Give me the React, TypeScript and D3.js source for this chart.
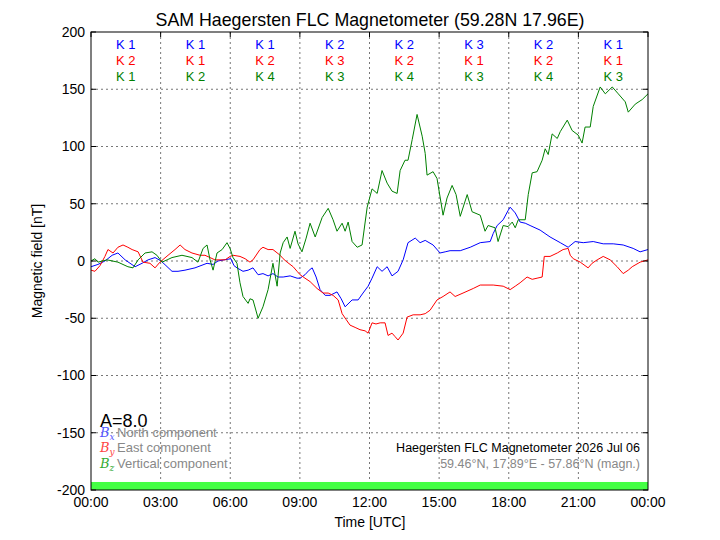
import React from "react";
import * as d3 from "d3";

// K-index per 3 hour window, for each component
const kNorth = [1, 1, 1, 2, 2, 3, 2, 1];
const kEast = [2, 1, 2, 3, 2, 1, 2, 1];
const kVert = [1, 2, 4, 3, 4, 3, 4, 3];

const xTicks = [0, 3, 6, 9, 12, 15, 18, 21, 24];
const xTickLabels = ["00:00", "03:00", "06:00", "09:00", "12:00", "15:00", "18:00", "21:00", "00:00"];
const yTicks = [-200, -150, -100, -50, 0, 50, 100, 150, 200];

// [hour UTC, nT]
const bxData: [number, number][] = [
  [0, -5], [0.3, -3], [0.6, 0], [0.91, 5], [1.16, 7], [1.47, 1], [1.9, -5], [2.2, -2], [2.46, 1], [2.76, 3],
  [3.02, 0], [3.23, -4], [3.49, -9], [3.75, -9], [4.05, -8], [4.48, -6], [5.0, -2], [5.26, -3], [5.47, 0], [5.73, 1],
  [6.03, 2], [6.16, -4], [6.29, -6], [6.55, -9], [6.77, -8], [6.98, -6], [7.2, -12], [7.41, -11], [7.63, -13], [7.84, -11],
  [8.06, -14], [8.28, -14], [8.58, -13], [8.88, -15], [9.01, -15], [9.22, -12], [9.4, -8], [9.53, -6], [9.7, -14], [9.87, -25],
  [10.09, -30], [10.3, -30], [10.6, -27], [10.78, -33], [10.95, -40], [11.25, -34], [11.51, -34], [11.72, -28], [11.94, -22], [12.11, -15],
  [12.33, -5], [12.54, -9], [12.76, -5], [12.97, -13], [13.23, -9], [13.45, 1], [13.66, 16], [13.97, 20], [14.18, 16], [14.4, 18],
  [14.74, 14], [15.04, 7], [15.26, 8], [15.47, 9], [15.91, 9], [16.34, 12], [16.77, 16], [17.2, 17], [17.33, 24], [17.5, 31],
  [17.76, 36], [17.97, 44], [18.06, 47], [18.28, 42], [18.49, 34], [18.71, 33], [18.92, 31], [19.35, 27], [19.78, 21], [20.22, 16],
  [20.56, 12], [20.86, 17], [21.21, 16], [21.64, 17], [22.07, 15], [22.5, 15], [22.93, 14], [23.36, 11], [23.66, 8], [24, 10],
];

const byData: [number, number][] = [
  [0, -8], [0.17, -9], [0.39, -4], [0.6, 4], [0.73, 10], [0.95, 7], [1.16, 12], [1.38, 14], [1.59, 12], [1.77, 10],
  [2.03, 8], [2.24, -1], [2.54, -2], [2.76, -6], [2.97, -1], [3.32, 5], [3.62, 10], [3.84, 14], [4.05, 10], [4.35, 7],
  [4.7, 5], [4.91, 5], [5.13, 3], [5.34, 1], [5.78, 1], [5.99, 4], [6.12, 5], [6.42, 4], [6.64, 2], [6.85, -1],
  [6.98, 1], [7.28, 10], [7.41, 12], [7.63, 10], [7.84, 10], [8.15, 5], [8.28, 2], [8.45, -1], [8.71, -5], [8.88, -9],
  [9.01, -12], [9.22, -15], [9.44, -18], [9.74, -24], [10.0, -28], [10.22, -28], [10.43, -30], [10.65, -34], [10.82, -46], [10.99, -51],
  [11.16, -56], [11.38, -58], [11.59, -60], [11.81, -61], [11.94, -63], [12.11, -54], [12.28, -55], [12.46, -54], [12.67, -54], [12.8, -65],
  [12.97, -63], [13.1, -66], [13.23, -69], [13.45, -63], [13.62, -49], [13.88, -47], [14.18, -47], [14.4, -46], [14.61, -43], [14.91, -34],
  [15.17, -31], [15.47, -27], [15.69, -31], [16.03, -28], [16.47, -24], [16.77, -21], [17.33, -21], [17.76, -22], [18.06, -25], [18.28, -22],
  [18.49, -19], [18.79, -14], [19.01, -16], [19.22, -15], [19.44, -14], [19.53, 4], [19.78, 4], [20.09, 7], [20.34, 10], [20.56, 11],
  [20.65, 5], [20.78, 2], [21.08, -1], [21.42, -6], [21.59, -2], [21.81, 1], [22.07, 4], [22.37, 1], [22.67, -5], [22.93, -11],
  [23.15, -8], [23.32, -5], [23.66, -1], [24, 1],
];

const bzData: [number, number][] = [
  [0, 0], [0.17, 2], [0.3, -1], [0.69, 1], [1.16, -1], [1.59, -5], [1.81, -6], [2.03, 1], [2.33, 7], [2.63, 8],
  [2.84, 5], [3.06, -1], [3.28, 1], [3.49, 3], [3.92, 5], [4.35, 3], [4.61, -1], [4.83, 11], [5.0, 14], [5.13, 1],
  [5.26, -8], [5.43, 7], [5.65, 10], [5.86, 16], [5.99, 11], [6.12, 3], [6.29, -2], [6.42, -19], [6.55, -31], [6.77, -37],
  [6.85, -33], [6.98, -34], [7.2, -50], [7.41, -40], [7.63, -25], [7.84, -2], [8.02, -22], [8.15, 7], [8.28, 16], [8.45, 21],
  [8.58, 11], [8.79, 26], [8.92, 15], [9.09, 8], [9.27, 20], [9.44, 33], [9.66, 21], [9.96, 38], [10.22, 46], [10.43, 36],
  [10.6, 26], [10.82, 33], [10.95, 26], [11.08, 34], [11.25, 17], [11.47, 12], [11.68, 14], [11.9, 47], [12.11, 63], [12.33, 59],
  [12.54, 79], [12.76, 68], [12.97, 61], [13.19, 59], [13.32, 79], [13.53, 88], [13.66, 88], [13.84, 106], [14.05, 128], [14.27, 109],
  [14.4, 94], [14.48, 75], [14.74, 78], [14.91, 72], [15.17, 40], [15.34, 55], [15.56, 66], [15.73, 58], [15.91, 39], [16.21, 58],
  [16.42, 43], [16.77, 40], [16.98, 26], [17.11, 31], [17.41, 29], [17.54, 17], [17.76, 31], [17.97, 30], [18.15, 34], [18.28, 29],
  [18.41, 36], [18.71, 36], [18.84, 58], [19.01, 77], [19.22, 78], [19.44, 88], [19.57, 98], [19.7, 93], [19.87, 111], [20.09, 107],
  [20.22, 113], [20.52, 123], [20.73, 114], [20.99, 110], [21.16, 103], [21.29, 117], [21.51, 117], [21.64, 135], [21.94, 152], [22.16, 146],
  [22.46, 152], [22.72, 146], [23.02, 139], [23.15, 130], [23.45, 137], [23.75, 141], [24, 146],
];

const FONT = "'Liberation Sans', Arial, Helvetica, sans-serif";

const App = () => {
  const left = 91;
  const right = 648;
  const top = 32;
  const bottom = 490;

  const x = d3.scaleLinear().domain([0, 24]).range([left, right]);
  const y = d3.scaleLinear().domain([-200, 200]).range([bottom, top]);

  const line = d3
    .line<[number, number]>()
    .x((d) => x(d[0]))
    .y((d) => y(d[1]));

  const series = [
    { data: bxData, color: "#0000ff" },
    { data: byData, color: "#ff0000" },
    { data: bzData, color: "#008000" },
  ];

  const kRows = [
    { k: kNorth, color: "#0000ff", y: 49 },
    { k: kEast, color: "#ff0000", y: 65 },
    { k: kVert, color: "#008000", y: 81 },
  ];

  return (
    <svg
      width={720}
      height={540}
      style={{ position: "absolute", left: 0, top: 0, background: "white" }}
      fontFamily={FONT}
    >
      <rect width={720} height={540} fill="white" />
      <text x={370} y={26} textAnchor="middle" fontSize={17.8}>
        SAM Haegersten FLC Magnetometer (59.28N 17.96E)
      </text>

      {/* grid */}
      {xTicks.slice(1, -1).map((t) => (
        <line key={"gx" + t} x1={x(t)} x2={x(t)} y1={top} y2={bottom} stroke="#777" strokeDasharray="2,3" />
      ))}
      {yTicks.slice(1, -1).map((t) => (
        <line key={"gy" + t} x1={left} x2={right} y1={y(t)} y2={y(t)} stroke="#777" strokeDasharray="2,3" />
      ))}

      {/* quiet-level bar */}
      <rect x={left} y={y(-193)} width={right - left} height={y(-200) - y(-193)} fill="#44ff44" />

      <clipPath id="plot">
        <rect x={left} y={top} width={right - left} height={bottom - top} />
      </clipPath>
      <g clipPath="url(#plot)">
        {series.map((s, i) => (
          <path key={i} d={line(s.data) || ""} fill="none" stroke={s.color} strokeWidth={1} />
        ))}
      </g>

      {/* K indices */}
      {kRows.map((row) =>
        row.k.map((k, i) => (
          <text key={row.color + i} x={x(i * 3 + 1.5)} y={row.y} textAnchor="middle" fontSize={13} fill={row.color}>
            K {k}
          </text>
        ))
      )}

      {/* frame and ticks */}
      <rect x={left} y={top} width={right - left} height={bottom - top} fill="none" stroke="black" strokeWidth={1} />
      {yTicks.map((t) => (
        <g key={"ty" + t}>
          <line x1={left} x2={left + 5} y1={y(t)} y2={y(t)} stroke="black" />
          <line x1={right - 5} x2={right} y1={y(t)} y2={y(t)} stroke="black" />
          <text x={85} y={y(t)} dy="0.35em" textAnchor="end" fontSize={14}>
            {t}
          </text>
        </g>
      ))}
      {xTicks.map((t, i) => (
        <g key={"tx" + i}>
          <line x1={x(t)} x2={x(t)} y1={top} y2={top + 5} stroke="black" />
          <text x={x(t)} y={507} textAnchor="middle" fontSize={14}>
            {xTickLabels[i]}
          </text>
        </g>
      ))}
      <text x={370} y={527} textAnchor="middle" fontSize={14}>
        Time [UTC]
      </text>
      <text transform="translate(42,261) rotate(-90)" textAnchor="middle" fontSize={14}>
        Magnetic field [nT]
      </text>

      {/* activity and legend */}
      <text x={100} y={427} fontSize={18}>
        A=8.0
      </text>
      {[
        { sub: "x", label: "North component", color: "#5555ff", y: 437 },
        { sub: "y", label: "East component", color: "#ff4444", y: 452 },
        { sub: "z", label: "Vertical component", color: "#33aa33", y: 468 },
      ].map((l) => (
        <g key={l.sub}>
          <text x={100} y={l.y} fontSize={13} fill={l.color} fontStyle="italic" fontFamily="'DejaVu Serif', serif">
            B
            <tspan fontSize={9} dy={3}>
              {l.sub}
            </tspan>
          </text>
          <text x={117} y={l.y} fontSize={13} fill="#888">
            {l.label}
          </text>
        </g>
      ))}
      <text x={640} y={452} textAnchor="end" fontSize={12.5}>
        Haegersten FLC Magnetometer 2026 Jul 06
      </text>
      <text x={640} y={468} textAnchor="end" fontSize={12.5} fill="#888">
        59.46°N, 17.89°E - 57.86°N (magn.)
      </text>
    </svg>
  );
};

export default App;
